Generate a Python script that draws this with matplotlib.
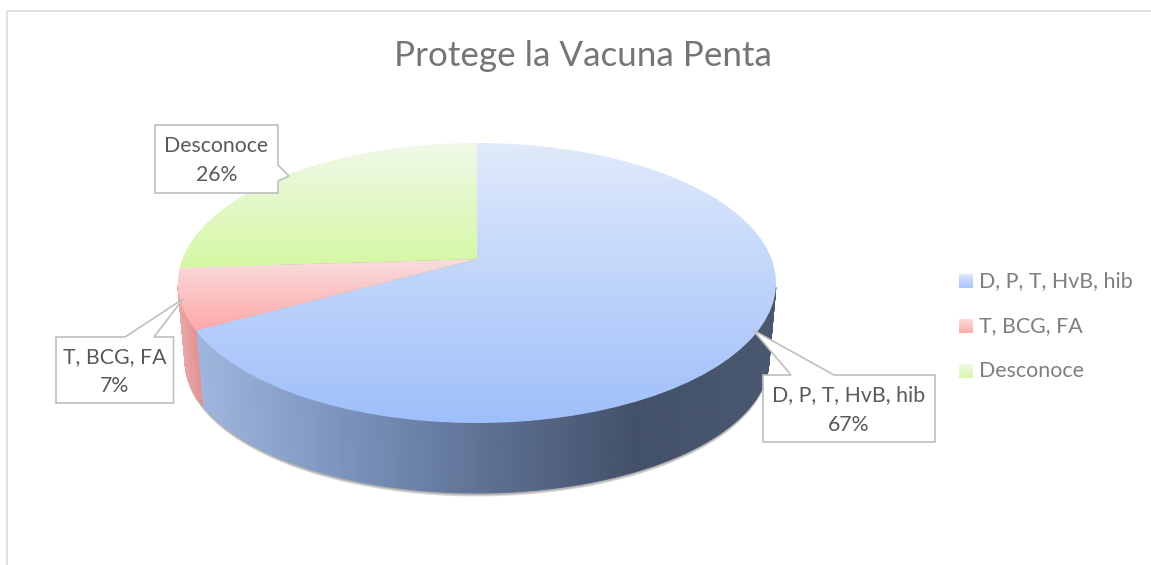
#Protege la Vacuna Penta - pie con perspectiva
import numpy as np
import matplotlib
matplotlib.use('Agg')
import matplotlib.pyplot as plt
from matplotlib.collections import PolyCollection
from matplotlib.colors import LinearSegmentedColormap
from matplotlib.patches import Polygon
from matplotlib.transforms import Affine2D, Transform

# datos
categories = ['D, P, T, HvB, hib', 'T, BCG, FA', 'Desconoce']
values = [67, 7, 26]

# colores: cara superior (arriba, abajo), pared (izq, der)
top_colors = [('#e0eafb', '#9fbffa'), ('#f8dede', '#ffa8a8'), ('#f0f9e8', '#d5f7a3')]
wall_colors = [['#9fb6de', '#7a93bd', '#5d7092', '#435069', '#4a5870'], ['#e8acac', '#e08a8a']]
legend_colors = [('#dce8fb', '#a6c3fb'), ('#fbdcdc', '#ffabab'), ('#eff9e6', '#d8f8ac')]

# geometria en pixeles
W, H = 1151, 565
CX, CY, RX, RY = 477, 283, 299, 140
BOTTOM_CX, BOTTOM_CY, BOTTOM_RX, BOTTOM_RY = 477, 360, 292, 133
K = 0.171  # desplaza el centro del pie hacia atras

TEXT = '#595959'
GREY = '#7f7f7f'
LINE = '#bfbfbf'

plt.rcParams['font.family'] = ['Lato', 'DejaVu Sans']


class Perspective(Transform):
    input_dims = 2
    output_dims = 2

    def transform_non_affine(self, values):
        u, v = values[:, 0], values[:, 1]
        w = 1 + K * v
        return np.column_stack([u * np.sqrt(1 - K ** 2) / w, (v + K) / w])


def gradient(ax, extent, colors, clip, zorder):
    cmap = LinearSegmentedColormap.from_list('g', colors)
    g = np.linspace(0, 1, 256).reshape(-1, 1)
    im = ax.imshow(g, cmap=cmap, vmin=0, vmax=1, extent=extent, aspect='auto',
                   interpolation='bilinear', zorder=zorder)
    if clip is not None:
        im.set_clip_path(clip)
    return im


fig = plt.figure(figsize=(W / 100, H / 100), dpi=100)
ax = fig.add_axes([0, 0, 1, 1])

persp = Perspective()
top_tf = persp + Affine2D().scale(RX, -RY).translate(CX, CY)
bottom_tf = persp + Affine2D().scale(BOTTOM_RX, -BOTTOM_RY).translate(BOTTOM_CX, BOTTOM_CY)

wedges, _ = ax.pie(values, startangle=90, counterclock=False, radius=1)

# limites de cada sector, en sentido horario desde arriba
edges = 90 - np.cumsum([0] + values) * 3.6


def arc(start, end, tf, n=200):
    a = np.radians(np.linspace(start, end, n))
    return tf.transform(np.column_stack([np.cos(a), np.sin(a)]))


# sombra bajo el pie
outline = arc(0, 360, bottom_tf)
for off in (3.5, 2.5, 1.5):
    ax.add_patch(Polygon(outline + [0, off], closed=True, fc='#707070', ec='none', alpha=0.25, zorder=1))

# paredes: solo los sectores azul y rojo se ven, en tiras verticales
wall_range = [(200, 780), (178, 206)]
for i in (0, 1):
    top_pts = arc(edges[i], edges[i + 1], top_tf, 500)
    bottom_pts = arc(edges[i], edges[i + 1], bottom_tf, 500)
    strips = [[top_pts[j], top_pts[j + 1], bottom_pts[j + 1], bottom_pts[j]]
              for j in range(len(top_pts) - 1) if top_pts[j][1] > CY + 3]
    cmap = LinearSegmentedColormap.from_list('w', wall_colors[i])
    x0, x1 = wall_range[i]
    mid = np.array([np.mean(s, axis=0)[0] for s in strips])
    cols = cmap((mid - x0) / (x1 - x0))
    ax.add_collection(PolyCollection(strips, facecolors=cols, edgecolors=cols, linewidths=0.6, zorder=2 + i * 0.1))

# cara superior
for i, wedge in enumerate(wedges):
    wedge.set_transform(top_tf + ax.transData)
    wedge.set_facecolor('none')
    wedge.set_edgecolor('none')
    box = wedge.get_path().transformed(top_tf).get_extents()
    gradient(ax, (box.x0, box.x1, box.y1, box.y0), top_colors[i], wedge, 3 + i * 0.1)

# etiquetas con flecha
boxes = [(763, 375, 935, 442), (56, 337, 173.5, 403), (155, 125, 278, 193)]
callouts = [
    [(763, 375), (791, 375), (753, 330), (834, 375), (935, 375), (935, 442), (763, 442)],
    [(56, 337), (125, 337), (183, 299), (154, 337), (173.5, 337), (173.5, 403), (56, 403)],
    [(155, 125), (278, 125), (278, 165), (289, 176), (278, 181), (278, 193), (155, 193)],
]
for i in range(3):
    ax.add_patch(Polygon(callouts[i], closed=True, fc='white', ec=LINE, lw=1.2, zorder=5, joinstyle='miter'))
    x0, y0, x1, y1 = boxes[i]
    ax.text((x0 + x1) / 2, (y0 + y1) / 2 + 1.5, f'{categories[i]}\n{values[i]}%', ha='center', va='center',
            fontsize=15.3, color=TEXT, linespacing=1.58, zorder=6)

# titulo
ax.text(582.5, 56, 'Protege la Vacuna Penta', ha='center', va='center', fontsize=25.2, color='#757575')

# leyenda
legend_y = [281, 326, 371]
for i in range(3):
    y = legend_y[i]
    gradient(ax, (959, 973, y + 7, y - 7), legend_colors[i], None, 4)
    ax.text(979, y, categories[i], ha='left', va='center', fontsize=15.4, color=GREY)

# borde del grafico
ax.plot([7, 7, W], [H, 11, 11], color='#d9d9d9', lw=1.1, zorder=0)

ax.set_aspect('auto')
ax.set_xlim(0, W)
ax.set_ylim(H, 0)
ax.axis('off')

fig.savefig('out.png', dpi=100, facecolor='white')
